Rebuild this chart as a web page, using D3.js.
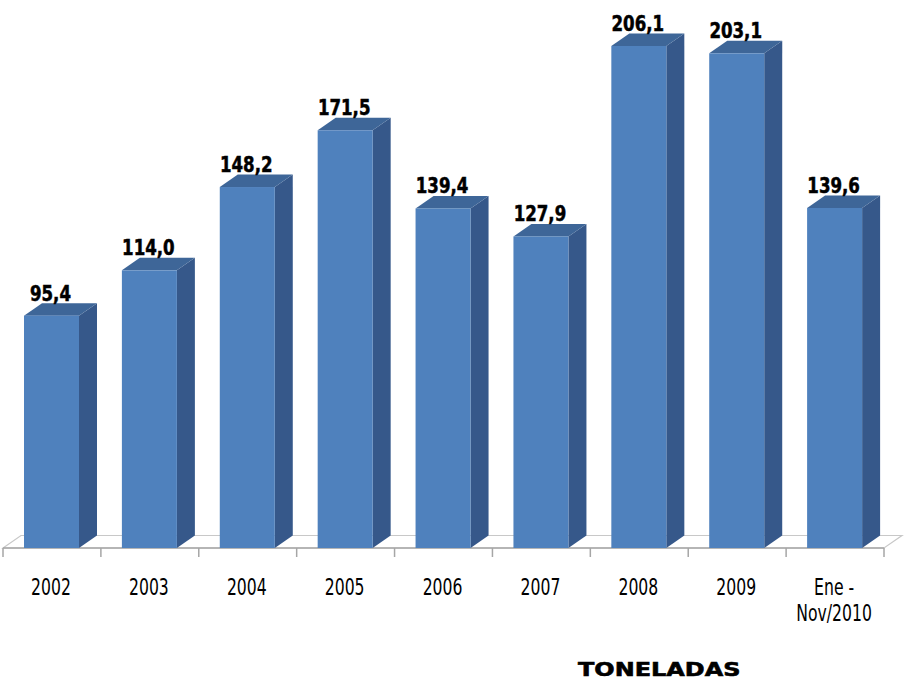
<!DOCTYPE html>
<html><head><meta charset="utf-8">
<script src="https://cdn.jsdelivr.net/npm/d3@7"></script>
<style>html,body{margin:0;padding:0;background:#fff;}</style>
</head><body>
<script>
const categories = ["2002","2003","2004","2005","2006","2007","2008","2009","Ene -\nNov/2010"];
const values = [95.4,114.0,148.2,171.5,139.4,127.9,206.1,203.1,139.6];
const valueLabels = ["95,4","114,0","148,2","171,5","139,4","127,9","206,1","203,1","139,6"];
const unitLabel = "TONELADAS";

const W = 905, H = 685;
const svg = d3.select("body").append("svg").attr("width", W).attr("height", H);

const x = d3.scaleBand().domain(categories).range([3, 884]).paddingInner(0).paddingOuter(0);
const y = d3.scaleLinear().domain([0, 206.1]).range([548, 46]);
const dx = 18, dy = 12.5;
const frontW = 55, offset = 21;

// floor
const x0 = x.range()[0], x1 = x.range()[1], yb = y(0);
svg.append("path")
  .attr("d", `M${x0},${yb} L${x0+dx},${yb-dy} L${x1+dx},${yb-dy} L${x1},${yb} Z`)
  .attr("fill", "#ffffff").attr("stroke", "#c8c8c8").attr("stroke-width", 1.2);
svg.append("path")
  .attr("d", `M${x0},${yb} L${x1},${yb}`)
  .attr("stroke", "#a6a6a6").attr("stroke-width", 1.5);
// ticks
x.domain().concat([null]).forEach((c) => {
  const tx = c === null ? x1 : x(c);
  svg.append("line").attr("x1", tx).attr("x2", tx).attr("y1", yb).attr("y2", yb + 9)
    .attr("stroke", "#a6a6a6").attr("stroke-width", 1.5);
});

const g = svg.append("g");
categories.forEach((c, i) => {
  const v = values[i];
  const L = x(c) + offset, R = L + frontW, T = y(v), B = y(0);
  g.append("path").attr("d", `M${R},${T} L${R+dx},${T-dy} L${R+dx},${B-dy} L${R},${B} Z`)
    .attr("fill", "#36588a");
  g.append("path").attr("d", `M${L},${T} L${L+dx},${T-dy} L${R+dx},${T-dy} L${R},${T} Z`)
    .attr("fill", "#3e6698");
  g.append("rect").attr("x", L).attr("y", T).attr("width", frontW).attr("height", B - T)
    .attr("fill", "#4f81bd");
  svg.append("text")
    .attr("transform", `translate(${L + frontW/2 - 1},${T - 15}) scale(0.88,1)`)
    .attr("text-anchor", "middle")
    .attr("font-family", "'DejaVu Sans Condensed','DejaVu Sans',sans-serif")
    .attr("font-weight", "bold").attr("font-size", 21)
    .attr("stroke", "#000").attr("stroke-width", 0.5)
    .attr("fill", "#000").text(valueLabels[i]);
  c.split("\n").forEach((line, j) => {
    svg.append("text")
      .attr("transform", `translate(${L + frontW/2 - 0.5},${595 + j*26}) scale(0.74,1)`)
      .attr("text-anchor", "middle")
      .attr("font-family", "'DejaVu Sans Condensed','DejaVu Sans',sans-serif")
      .attr("font-size", 23.5).attr("fill", "#000").text(line);
  });
});

svg.append("text")
  .attr("transform", "translate(578,676) scale(1.26,1)")
  .attr("font-family", "'DejaVu Sans','Verdana',sans-serif")
  .attr("font-weight", "bold").attr("font-size", 19)
  .attr("stroke", "#000").attr("stroke-width", 0.6)
  .attr("fill", "#000").text(unitLabel);
</script>
</body></html>
